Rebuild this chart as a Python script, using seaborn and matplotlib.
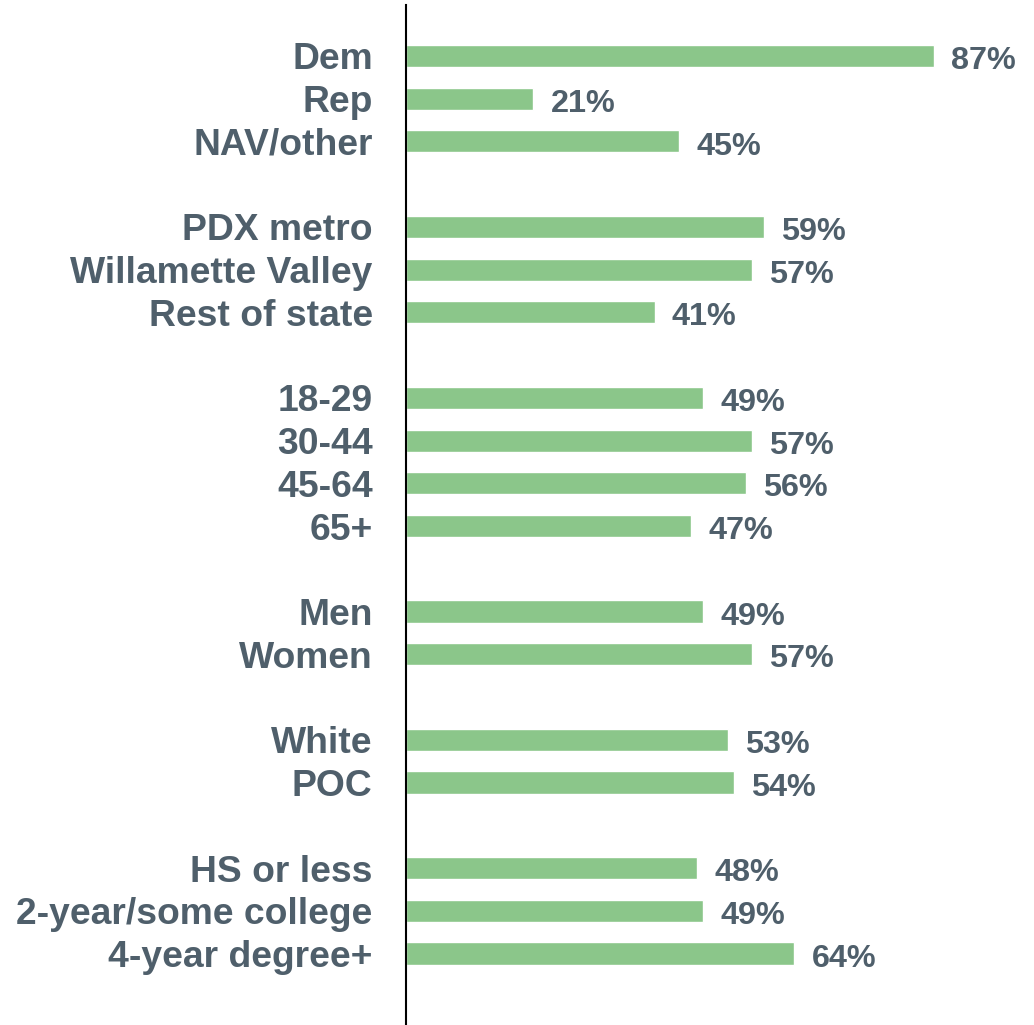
import matplotlib
matplotlib.use("Agg")
import matplotlib.pyplot as plt
import seaborn as sns
import pandas as pd

categories = ["Dem", "Rep", "NAV/other",
              "PDX metro", "Willamette Valley", "Rest of state",
              "18-29", "30-44", "45-64", "65+",
              "Men", "Women",
              "White", "POC",
              "HS or less", "2-year/some college", "4-year degree+"]
values = [87, 21, 45,
          59, 57, 41,
          49, 57, 56, 47,
          49, 57,
          53, 54,
          48, 49, 64]
group_sizes = [3, 3, 4, 2, 2, 3]

# order with blank spacer rows between groups
order = []
idx = 0
for g, n in enumerate(group_sizes):
    order += categories[idx:idx + n]
    idx += n
    if g < len(group_sizes) - 1:
        order.append(" " * (g + 1))

df = pd.DataFrame({"group": categories, "pct": values})

sns.set_style("white")
plt.rcParams['font.family'] = ['Liberation Sans', 'DejaVu Sans']

text_color = "#4f5f6b"
bar_color = "#8bc68a"

fig = plt.figure(figsize=(10.34, 10.25), dpi=100)
ax = fig.add_axes([406 / 1034, 0.0, (1013 - 406) / 1034, 1 - 5 / 1025])

sns.barplot(data=df, y="group", x="pct", order=order, orient="h",
            color=bar_color, width=0.52, saturation=1, ax=ax)

ax.set_xlim(0, 100)
ax.set_ylim(22.67, -1.19)

for c, v in zip(categories, values):
    ypos = order.index(c)
    ax.text(v + 2.8, ypos + 0.12, f"{v}%", va="center", ha="left",
            fontsize=23.3, fontweight="bold", color=text_color, clip_on=False)

ax.set_xlabel("")
ax.set_ylabel("")
ax.set_xticks([])
ax.tick_params(axis="y", length=0, pad=24)
for lab in ax.get_yticklabels():
    lab.set_fontsize(26.8)
    lab.set_fontweight("bold")
    lab.set_color(text_color)

for s in ["top", "right", "bottom"]:
    ax.spines[s].set_visible(False)
ax.spines["left"].set_color("black")
ax.spines["left"].set_linewidth(1.5)

fig.savefig("out.png", dpi=100)
